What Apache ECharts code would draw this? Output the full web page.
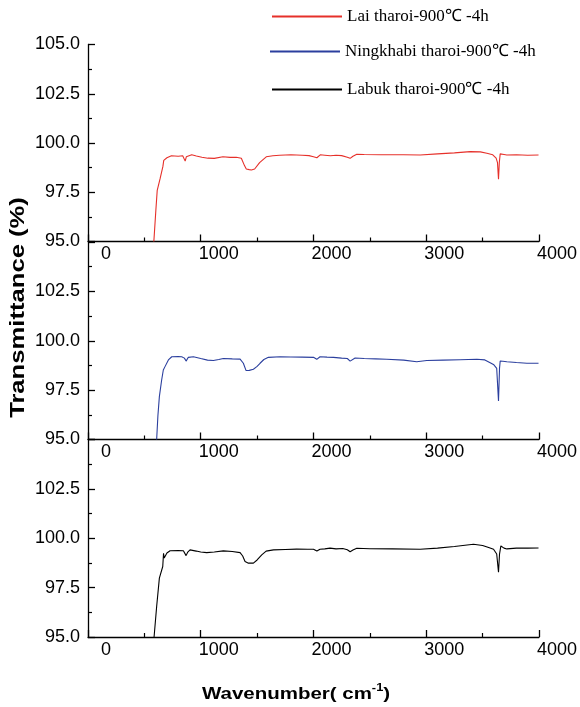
<!DOCTYPE html>
<html>
<head>
<meta charset="utf-8">
<script src="https://cdn.jsdelivr.net/npm/echarts@6/dist/echarts.min.js"></script>
<style>html,body{margin:0;padding:0;background:#fff;}#c{width:580px;height:707px;}</style>
</head>
<body>
<div id="c"></div>
<script>
// ---- data ----
const seriesNames = ['Lai tharoi-900℃ -4h', 'Ningkhabi tharoi-900℃ -4h', 'Labuk tharoi-900℃ -4h'];
const xTicks = [0, 1000, 2000, 3000, 4000];
const yTicks = [95.0, 97.5, 100.0, 102.5, 105.0];

const laiWn = [584, 602, 614, 640, 664, 672, 700, 740, 800, 840, 852, 862, 872, 885, 920, 961, 1010, 1064, 1120, 1197, 1260, 1315, 1360, 1389, 1404, 1430, 1449, 1478, 1522, 1581, 1640, 1699, 1800, 1900, 1960, 2000, 2030, 2060, 2100, 2150, 2200, 2250, 2300, 2325, 2350, 2384, 2450, 2600, 2800, 2946, 3100, 3250, 3390, 3480, 3538, 3590, 3620, 3632, 3641, 3648, 3656, 3670, 3690, 3715, 3800, 3900, 3996];
const laiT  = [95.0, 96.6, 97.6, 98.2, 98.8, 99.12, 99.25, 99.35, 99.33, 99.35, 99.3, 99.08, 99.3, 99.38, 99.4, 99.34, 99.28, 99.23, 99.22, 99.3, 99.27, 99.28, 99.23, 98.84, 98.68, 98.65, 98.63, 98.68, 99.0, 99.3, 99.35, 99.38, 99.4, 99.38, 99.36, 99.3, 99.25, 99.4, 99.38, 99.35, 99.38, 99.36, 99.28, 99.22, 99.33, 99.43, 99.42, 99.4, 99.4, 99.39, 99.45, 99.5, 99.56, 99.55, 99.48, 99.4, 99.23, 99.0, 98.16, 99.0, 99.45, 99.4, 99.42, 99.39, 99.4, 99.38, 99.39];

const ningWn = [609, 620, 633, 653, 668, 683, 713, 743, 800, 831, 855, 870, 890, 935, 1000, 1060, 1112, 1160, 1200, 1280, 1349, 1378, 1402, 1430, 1467, 1500, 1526, 1560, 1600, 1704, 1800, 1900, 2000, 2029, 2058, 2120, 2177, 2250, 2300, 2325, 2369, 2450, 2550, 2650, 2800, 2916, 3005, 3150, 3300, 3449, 3520, 3567, 3600, 3625, 3641, 3650, 3656, 3680, 3715, 3800, 3893, 3996];
const ningT  = [95.0, 96.2, 97.17, 98.0, 98.52, 98.69, 99.03, 99.19, 99.2, 99.19, 99.12, 98.97, 99.16, 99.19, 99.1, 99.02, 99.0, 99.05, 99.1, 99.08, 99.07, 98.86, 98.49, 98.5, 98.56, 98.7, 98.86, 99.05, 99.16, 99.19, 99.18, 99.17, 99.16, 99.06, 99.19, 99.17, 99.16, 99.12, 99.1, 98.97, 99.13, 99.1, 99.08, 99.06, 99.02, 98.94, 99.0, 99.02, 99.04, 99.06, 99.03, 98.89, 98.78, 98.6, 96.95, 98.6, 98.97, 98.96, 98.94, 98.9, 98.86, 98.86];

const labukWn = [586, 609, 633, 663, 670, 676, 700, 728, 800, 846, 860, 870, 885, 905, 960, 1000, 1053, 1120, 1200, 1280, 1349, 1372, 1393, 1423, 1467, 1500, 1541, 1580, 1645, 1750, 1850, 1950, 2000, 2030, 2058, 2100, 2147, 2200, 2260, 2300, 2325, 2350, 2384, 2500, 2700, 2946, 3100, 3250, 3419, 3500, 3560, 3597, 3625, 3641, 3650, 3662, 3690, 3715, 3800, 3900, 3996];
const labukT  = [95.0, 96.55, 97.98, 98.57, 99.24, 99.0, 99.25, 99.37, 99.38, 99.37, 99.3, 99.12, 99.3, 99.41, 99.35, 99.3, 99.27, 99.3, 99.36, 99.33, 99.27, 99.1, 98.82, 98.74, 98.74, 98.9, 99.16, 99.35, 99.41, 99.43, 99.45, 99.44, 99.44, 99.35, 99.44, 99.46, 99.5, 99.46, 99.48, 99.42, 99.32, 99.4, 99.49, 99.47, 99.46, 99.44, 99.5, 99.58, 99.7, 99.63, 99.52, 99.44, 99.2, 98.28, 99.2, 99.61, 99.5, 99.46, 99.5, 99.5, 99.51];

const colors = ['#e6302a', '#2b3f9e', '#000000'];
// ---- build ----
function pairs(w, t) { return w.map((x, i) => [x, t[i]]); }
const datas = [pairs(laiWn, laiT), pairs(ningWn, ningT), pairs(labukWn, labukT)];

const SANS = '"Liberation Sans", Arial, sans-serif';
const SERIF = '"Liberation Serif", "Times New Roman", serif';
const gridTops = [44.5, 242, 439.5];
const gridHeights = [197, 197.5, 197.5];
const legendPos = [[272, 8], [270, 43], [272, 81]];

const chart = echarts.init(document.getElementById('c'), null, {renderer: 'canvas'});
const option = {
  backgroundColor: '#fff',
  animation: false,
  grid: gridTops.map((t, i) => ({left: 88, top: t, width: 451, height: gridHeights[i]})),
  xAxis: gridTops.map((t, i) => ({
    gridIndex: i, type: 'value',
    min: xTicks[0], max: xTicks[xTicks.length - 1], interval: xTicks[1] - xTicks[0],
    axisLine: {show: true, onZero: false, lineStyle: {color: '#000', width: 1.3}},
    axisTick: {show: true, inside: true, length: 7, lineStyle: {color: '#000', width: 1.3}},
    minorTick: {show: true, splitNumber: 2, length: 4, lineStyle: {color: '#000', width: 1.2}},
    splitLine: {show: false},
    axisLabel: {color: '#000', fontSize: 18, fontFamily: SANS, margin: 4, padding: [0, 0, 0, 36],
      formatter: v => String(v)}
  })),
  yAxis: gridTops.map((t, i) => ({
    gridIndex: i, type: 'value',
    min: yTicks[0], max: yTicks[yTicks.length - 1], interval: yTicks[1] - yTicks[0],
    axisLine: {show: true, onZero: false, lineStyle: {color: '#000', width: 1.3}},
    axisTick: {show: true, inside: true, length: 7, lineStyle: {color: '#000', width: 1.3}},
    minorTick: {show: true, splitNumber: 2, length: 4, lineStyle: {color: '#000', width: 1.2}},
    splitLine: {show: false},
    axisLabel: {color: '#000', fontSize: 18, fontFamily: SANS, margin: 8,
      showMaxLabel: i === 0, formatter: v => v.toFixed(1)}
  })),
  legend: seriesNames.map((n, i) => ({
    data: [n], left: legendPos[i][0], top: legendPos[i][1], padding: 0,
    icon: 'rect', itemWidth: 70, itemHeight: 2, selectedMode: false,
    textStyle: {fontFamily: SERIF, fontSize: 17, color: '#000'}
  })),
  series: seriesNames.map((n, i) => ({
    name: n, type: 'line', xAxisIndex: i, yAxisIndex: i,
    data: datas[i], symbol: 'none', showSymbol: false,
    lineStyle: {color: colors[i], width: 1.1}, itemStyle: {color: colors[i]}
  })),
  graphic: [
    {
      type: 'text', x: 18, y: 307.5, rotation: Math.PI / 2, scaleX: 1.22, scaleY: 1,
      style: {text: 'Transmittance (%)', font: 'bold 21px ' + SANS, fill: '#000',
        align: 'center', verticalAlign: 'middle', textAlign: 'center', textVerticalAlign: 'middle'}
    },
    {
      type: 'text', x: 296, y: 693, scaleX: 1.28, scaleY: 1,
      style: {
        text: '{a|Wavenumber( cm}{s|-1}{a|)}', fill: '#000',
        align: 'center', verticalAlign: 'middle', textAlign: 'center', textVerticalAlign: 'middle',
        rich: {
          a: {font: 'bold 16px ' + SANS, fill: '#000', lineHeight: 20, verticalAlign: 'bottom'},
          s: {font: 'bold 10px ' + SANS, fill: '#000', lineHeight: 20, verticalAlign: 'top', padding: [0, 0, 8, 0]}
        }
      }
    }
  ]
};
chart.setOption(option);
</script>
</body>
</html>
